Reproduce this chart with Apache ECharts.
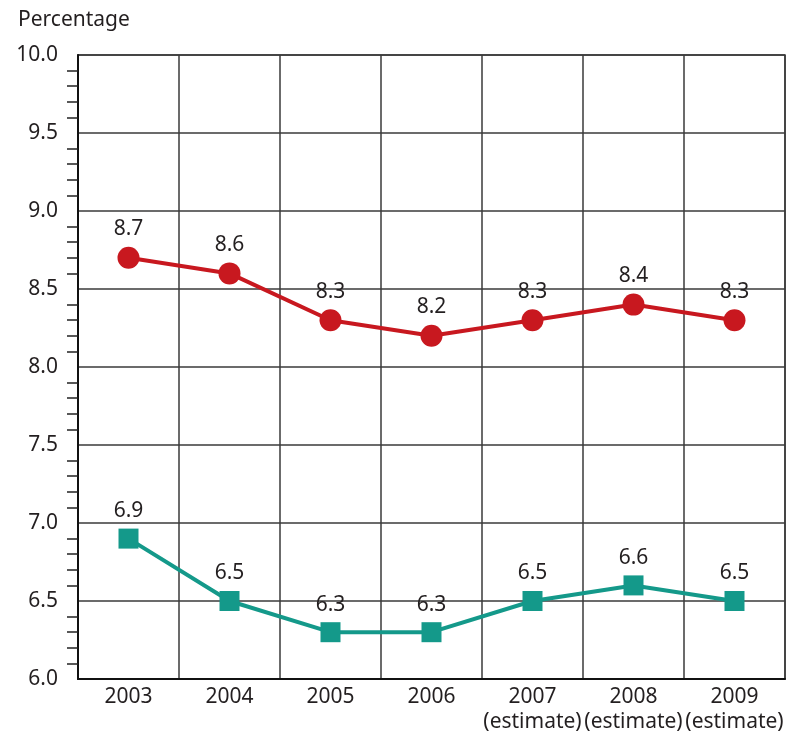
<!DOCTYPE html>
<html>
<head>
<meta charset="utf-8">
<script src="https://cdn.jsdelivr.net/npm/echarts@6/dist/echarts.min.js"></script>
<style>
  html, body { margin: 0; padding: 0; background: #fff; }
  #chart { width: 789px; height: 738px; }
</style>
</head>
<body>
<div id="chart"></div>
<script>
// Years shown on the category axis; later years are projections
const years = ['2003', '2004', '2005', '2006', '2007\n(estimate)', '2008\n(estimate)', '2009\n(estimate)'];
const upperSeries = [8.7, 8.6, 8.3, 8.2, 8.3, 8.4, 8.3];
const lowerSeries = [6.9, 6.5, 6.3, 6.3, 6.5, 6.6, 6.5];
const yMin = 6.0, yMax = 10.0, yStep = 0.5;

const FONT = '"Noto Sans", "Open Sans", sans-serif';
const TEXT = '#231f20';
const GRID = '#3a3a3a';

const chart = echarts.init(document.getElementById('chart'), null, { renderer: 'canvas' });

function lineSeries(data, color, symbol, size) {
  return {
    type: 'line',
    data: data,
    symbol: symbol,
    symbolSize: size,
    lineStyle: { color: color, width: 4 },
    itemStyle: { color: color },
    label: {
      show: true,
      position: 'top',
      distance: 7,
      color: TEXT,
      fontFamily: FONT,
      fontSize: 21,
      formatter: p => p.value.toFixed(1)
    },
    z: 5
  };
}

chart.setOption({
  animation: false,
  backgroundColor: '#fff',
  title: {
    text: 'Percentage',
    left: 13,
    top: 5,
    textStyle: { fontFamily: FONT, fontSize: 21, fontWeight: 'normal', color: TEXT }
  },
  grid: {
    left: 78, right: 4, top: 55, bottom: 59,
    show: true, borderColor: GRID, borderWidth: 1.5, backgroundColor: 'transparent'
  },
  xAxis: {
    type: 'category',
    data: years,
    boundaryGap: true,
    axisLine: { show: true, lineStyle: { color: '#111', width: 2 } },
    axisTick: { show: false, interval: 0 },
    splitLine: { show: true, interval: 0, lineStyle: { color: GRID, width: 1.5 } },
    axisLabel: {
      interval: 0,
      color: TEXT, fontFamily: FONT, fontSize: 21, margin: 6, lineHeight: 25
    }
  },
  yAxis: {
    type: 'value',
    min: yMin, max: yMax, interval: yStep,
    axisLine: { show: true, lineStyle: { color: '#111', width: 2 } },
    axisTick: { show: false, inside: false },
    minorTick: { show: true, splitNumber: 5, length: 11, lineStyle: { color: '#222', width: 1.5 } },
    splitLine: { show: true, lineStyle: { color: GRID, width: 1.5 } },
    axisLabel: {
      color: TEXT, fontFamily: FONT, fontSize: 21, margin: 20,
      formatter: v => v.toFixed(1)
    }
  },
  series: [
    lineSeries(upperSeries, '#c8181f', 'circle', 22),
    lineSeries(lowerSeries, '#14998a', 'rect', 20)
  ]
});
</script>
</body>
</html>
